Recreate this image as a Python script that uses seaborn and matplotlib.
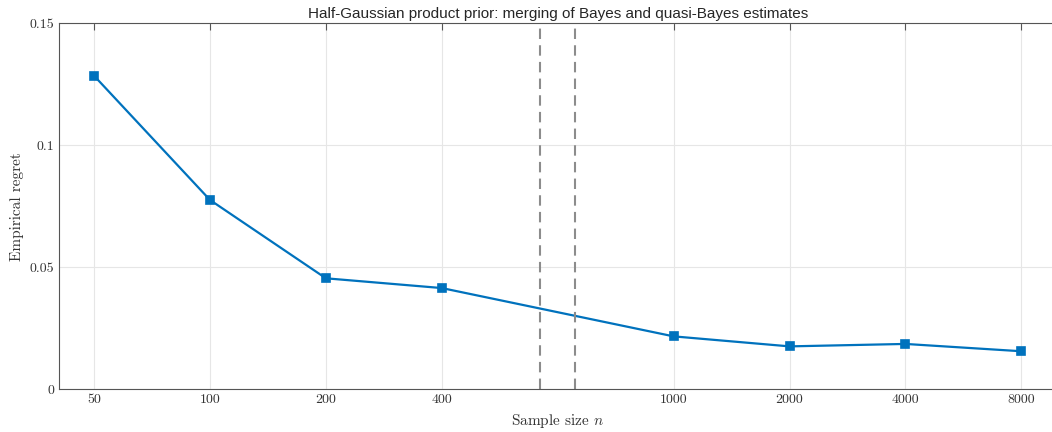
import matplotlib
matplotlib.use("Agg")
import matplotlib.pyplot as plt
import seaborn as sns
import pandas as pd

# sample sizes and empirical regret
sample_sizes = [50, 100, 200, 400, 1000, 2000, 4000, 8000]
regret = [0.1285, 0.0776, 0.0455, 0.0415, 0.0217, 0.0176, 0.0186, 0.0156]
# categorical slots, with one empty slot between 400 and 1000
slots = [1, 2, 3, 4, 6, 7, 8, 9]
break_marks = [4.85, 5.15]

df = pd.DataFrame({"slot": slots, "regret": regret})

sns.set_style("white")
plt.rcParams["font.family"] = ["cmr10", "DejaVu Serif"]
plt.rcParams["mathtext.fontset"] = "cm"
plt.rcParams["axes.formatter.use_mathtext"] = True

fig = plt.figure(figsize=(10.52, 4.32), dpi=100)
ax = fig.add_axes([0.0564, 0.0988, 0.9475, 0.8472])

sns.lineplot(data=df, x="slot", y="regret", ax=ax, color="#0072BD",
             linewidth=1.6, marker="s", markersize=6, markeredgewidth=1.2,
             markeredgecolor="#0072BD")
for line in ax.lines:
    line.set_markeredgecolor("#0072BD")
    line.set_solid_joinstyle("round")

for xb in break_marks:
    ax.axvline(xb, color="#8c8c8c", linestyle=(0, (5, 3)), linewidth=1.5)

ax.set_xlim(0.7, 9.3)
ax.set_ylim(0, 0.15)
ax.set_xticks(slots)
ax.set_xticklabels([str(s) for s in sample_sizes])
ax.set_yticks([0, 0.05, 0.1, 0.15])
ax.set_yticklabels(["0", "0.05", "0.1", "0.15"])
ax.grid(True, color="#e6e6e6", linewidth=0.8)
ax.set_axisbelow(True)

for s in ax.spines.values():
    s.set_color("#555555")
    s.set_linewidth(0.8)
ax.spines["right"].set_visible(False)
ax.tick_params(direction="in", length=5, width=0.8, color="#555555",
               labelsize=10, labelcolor="#333333", top=True, right=False)

ax.set_xlabel("Sample size $n$", fontsize=11, color="#333333")
ax.set_ylabel("Empirical regret", fontsize=11, color="#333333")
ax.set_title("Half-Gaussian product prior: merging of Bayes and quasi-Bayes estimates",
             fontsize=11, family=["Liberation Sans", "DejaVu Sans"], pad=4)

fig.savefig("out.png", dpi=100)
